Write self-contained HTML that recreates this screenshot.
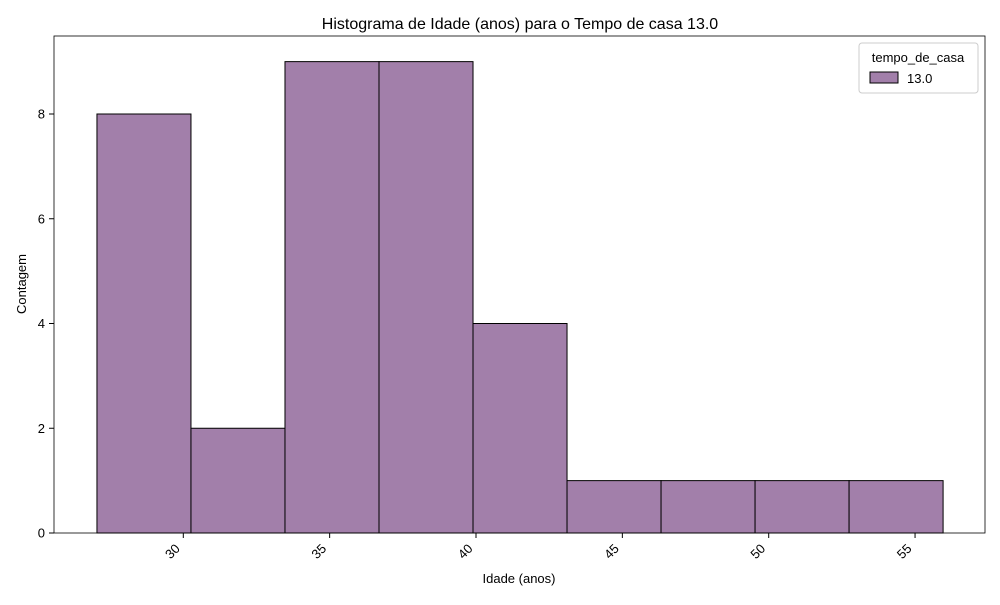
<!DOCTYPE html>
<html><head><meta charset="utf-8"><style>
body{margin:0;background:#fff;font-family:"Liberation Sans","DejaVu Sans",sans-serif}
</style></head><body>
<svg id="chart" width="1000" height="600" xmlns="http://www.w3.org/2000/svg" font-family="Liberation Sans, DejaVu Sans, sans-serif">
<text x="520" y="29" font-size="16" text-anchor="middle" fill="#000">Histograma de Idade (anos) para o Tempo de casa 13.0</text>
<g id="bars"></g>
<g id="xaxis"></g>
<g id="yaxis"></g>
<rect x="54" y="36" width="931" height="497" fill="none" stroke="#000" stroke-width="0.8"/>
<text x="519" y="583" font-size="13" text-anchor="middle">Idade (anos)</text>
<text transform="translate(26,284) rotate(-90)" font-size="13" text-anchor="middle">Contagem</text>
<g>
<rect x="859" y="43" width="119" height="50" rx="3" fill="#fff" stroke="#ccc"/>
<text x="918" y="62" font-size="13" text-anchor="middle">tempo_de_casa</text>
<rect x="870" y="72" width="28" height="11" fill="#a27faa" stroke="#000"/>
<text x="907" y="83" font-size="13">13.0</text>
</g>
</svg>
<script>
const binStart = 27.05;
const binWidth = 3.212;
const counts = [8, 2, 9, 9, 4, 1, 1, 1, 1];
const xTicks = [30, 35, 40, 45, 50, 55];
const yTicks = [0, 2, 4, 6, 8];
const NS = "http://www.w3.org/2000/svg";
function xs(v){return 183.3 + (v - 30) * 29.27;}
function ys(v){return 533 - v * 52.375;}
const bars = document.getElementById('bars');
counts.forEach((c, i) => {
  const x0 = xs(binStart + i * binWidth), x1 = xs(binStart + (i + 1) * binWidth);
  const r = document.createElementNS(NS, 'rect');
  r.setAttribute('x', x0); r.setAttribute('y', ys(c));
  r.setAttribute('width', x1 - x0); r.setAttribute('height', ys(0) - ys(c));
  r.setAttribute('fill', '#a27faa'); r.setAttribute('stroke', '#000'); r.setAttribute('stroke-width', '1');
  
  
  bars.appendChild(r);
});
const xa = document.getElementById('xaxis');
xTicks.forEach(t => {
  const x = xs(t);
  const l = document.createElementNS(NS, 'line');
  l.setAttribute('x1', x); l.setAttribute('x2', x); l.setAttribute('y1', 533); l.setAttribute('y2', 538);
  l.setAttribute('stroke', '#000');
  
  
  xa.appendChild(l);
  const tx = document.createElementNS(NS, 'text');
  tx.setAttribute('transform', 'translate(' + (x - 9) + ',543) rotate(-45)');
  tx.setAttribute('font-size', '13'); tx.setAttribute('text-anchor', 'end'); tx.setAttribute('dy', '0.7em');
  tx.textContent = t;
  
  
  xa.appendChild(tx);
});
const ya = document.getElementById('yaxis');
yTicks.forEach(t => {
  const y = ys(t);
  const l = document.createElementNS(NS, 'line');
  l.setAttribute('x1', 49); l.setAttribute('x2', 54); l.setAttribute('y1', y); l.setAttribute('y2', y);
  l.setAttribute('stroke', '#000');
  
  
  ya.appendChild(l);
  const tx = document.createElementNS(NS, 'text');
  tx.setAttribute('x', 45); tx.setAttribute('y', y + 4.5);
  tx.setAttribute('font-size', '13'); tx.setAttribute('text-anchor', 'end');
  tx.textContent = t;
  
  
  ya.appendChild(tx);
});
</script>
</body></html>
